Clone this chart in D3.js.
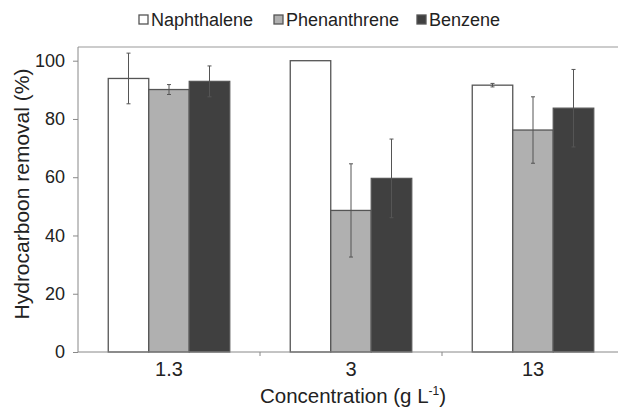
<!DOCTYPE html>
<html><head><meta charset="utf-8">
<script src="https://cdn.jsdelivr.net/npm/d3@7"></script>
<style>body{margin:0;background:#fff}svg{display:block;font-family:"Liberation Sans",Arial,sans-serif}</style>
</head><body><svg id="c" width="618" height="410"></svg>
<script>
const categories = ["1.3", "3", "13"];
const seriesNames = ["Naphthalene", "Phenanthrene", "Benzene"];
const naphthalene = [93.9, 100, 91.6];
const naphthaleneErr = [8.7, 0, 0.6];
const phenanthrene = [90.1, 48.6, 76.2];
const phenanthreneErr = [1.7, 16.0, 11.4];
const benzene = [92.9, 59.6, 83.7];
const benzeneErr = [5.3, 13.5, 13.3];
const yTicks = [0, 20, 40, 60, 80, 100];
const colors = ["#ffffff", "#b0b0b0", "#404040"];

const values = [naphthalene, phenanthrene, benzene];
const errs = [naphthaleneErr, phenanthreneErr, benzeneErr];

const svg = d3.select("#c");
const L = 78, R = 624, T = 47, B = 352;
const x = d3.scaleBand().domain(categories).range([L, R]).paddingInner(0).paddingOuter(0);
const xs = d3.scaleBand().domain(seriesNames).range([0, x.bandwidth()]).paddingInner(0).paddingOuter(0.5 * (x.bandwidth() - 121.5) / 40.5);
const y = d3.scaleLinear().domain([0, 100]).range([B, T + 13.7]);

// frame top
svg.append("line").attr("x1", L).attr("x2", 618).attr("y1", T).attr("y2", T).attr("stroke", "#999").attr("stroke-width", 1.2);

// bars
const data = [];
categories.forEach((c, i) => seriesNames.forEach((s, j) => data.push({c, s, j, v: values[j][i], e: errs[j][i]})));
svg.append("g").selectAll("rect").data(data).join("rect")
  .attr("x", d => x(d.c) + xs(d.s))
  .attr("y", d => y(d.v))
  .attr("width", xs.bandwidth())
  .attr("height", d => y(0) - y(d.v))
  .attr("fill", d => colors[d.j])
  .attr("stroke", "#555").attr("stroke-width", 1.3);

// error bars
const eg = svg.append("g").attr("stroke", "#555").attr("stroke-width", 1);
data.filter(d => d.e > 0).forEach(d => {
  const cx = x(d.c) + xs(d.s) + xs.bandwidth() / 2;
  eg.append("line").attr("x1", cx).attr("x2", cx).attr("y1", y(d.v + d.e)).attr("y2", y(d.v - d.e));
  [d.v + d.e, d.v - d.e].forEach(v => eg.append("line").attr("x1", cx - 2).attr("x2", cx + 2).attr("y1", y(v)).attr("y2", y(v)));
});

// y axis
const ya = svg.append("g").attr("transform", `translate(${L},0)`)
  .call(d3.axisLeft(y).tickValues(yTicks).tickSize(5).tickSizeOuter(0).tickPadding(8));
ya.select(".domain").attr("stroke", "#888").attr("d", `M0,${T}V${B}`);
ya.selectAll(".tick line").attr("stroke", "#888");
ya.selectAll("text").attr("font-size", 18).attr("fill", "#222").attr("font-family", "Liberation Sans, Arial, sans-serif");

// x axis
const xa = svg.append("g").attr("transform", `translate(0,${B})`)
  .call(d3.axisBottom(x).tickSize(0).tickPadding(10));
xa.select(".domain").attr("stroke", "#888").attr("d", `M${L},0H618`);
xa.selectAll("text").attr("font-size", 20).attr("fill", "#222").attr("font-family", "Liberation Sans, Arial, sans-serif");
categories.slice(1).forEach(c => {
  xa.append("line").attr("x1", x(c)).attr("x2", x(c)).attr("y1", 0).attr("y2", 4).attr("stroke", "#888");
});

// axis titles
const xt = svg.append("text").attr("x", 353).attr("y", 403).attr("text-anchor", "middle").attr("font-size", 20.5).attr("fill", "#222");
xt.append("tspan").text("Concentration (g L");
xt.append("tspan").attr("font-size", 12).attr("dy", -8).text("-1");
xt.append("tspan").attr("dy", 8).text(")");

svg.append("text").attr("transform", "translate(29,194) rotate(-90)").attr("text-anchor", "middle")
  .attr("font-size", 21).attr("fill", "#222").text("Hydrocarboon removal (%)");

// legend
const legX = [139, 274, 417];
const lg = svg.append("g");
seriesNames.forEach((s, j) => {
  lg.append("rect").attr("x", legX[j]).attr("y", 15).attr("width", 9).attr("height", 9)
    .attr("fill", colors[j]).attr("stroke", "#555").attr("stroke-width", 1.3);
  lg.append("text").attr("x", legX[j] + 12).attr("y", 25.5).attr("font-size", 18).attr("fill", "#222").text(s);
});
</script></body></html>
